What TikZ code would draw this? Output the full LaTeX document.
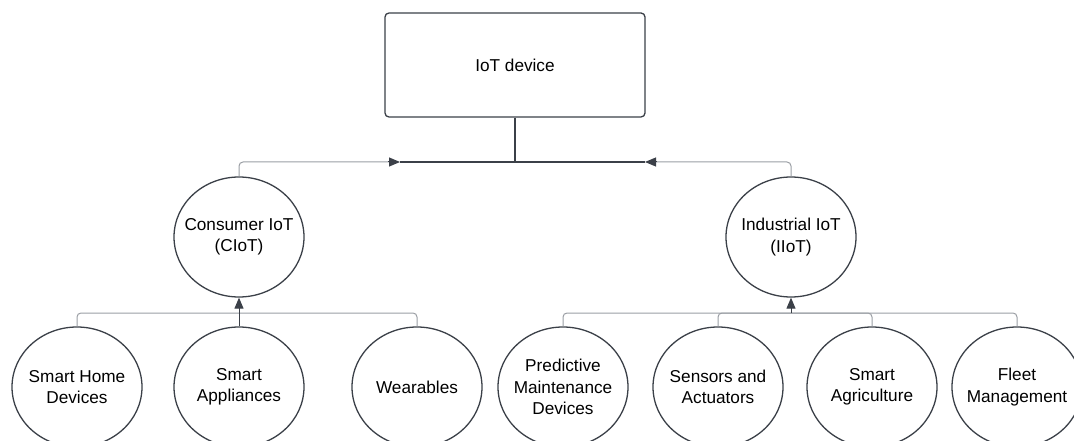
\documentclass[tikz,border=0pt]{standalone}
\usepackage{fontspec}
\setmainfont{Liberation Sans}
\usetikzlibrary{shapes.geometric,arrows.meta}
\definecolor{edge}{HTML}{3B4048}
\definecolor{wire}{HTML}{9A9EA4}
\begin{document}
\begin{tikzpicture}[x=1pt,y=-1pt,
  every node/.style={font=\fontsize{17.2}{21.5}\selectfont, text=black, align=center},
  rootbox/.style={draw=edge, line width=1.3pt, rounded corners=4pt,
    minimum width=260pt, minimum height=104pt, inner sep=0pt},
  % negative padding keeps the outline at its fixed size
  bubble/.style={ellipse, draw=edge, line width=1.3pt,
    minimum width=130pt, minimum height=120pt, inner xsep=-30pt, inner ysep=-20pt},
  wireline/.style={draw=wire, line width=1pt, rounded corners=4pt},
  trunk/.style={draw=edge, line width=1.3pt},
  tip/.style={-{Triangle[length=11pt,width=9pt]}, draw=edge, line width=1pt},
]
\useasboundingbox (0,0) rectangle (1074,441);

% root
\node[rootbox] (iot) at (515,65) {IoT device};

% second level
\node[bubble] (ciot) at (239,237) {Consumer IoT\\(CIoT)};
\node[bubble] (iiot) at (791,237) {Industrial IoT\\(IIoT)};

% leaves
\node[bubble] (home) at (77,387) {Smart Home\\Devices};
\node[bubble] (appl) at (239,387) {Smart\\Appliances};
\node[bubble] (wear) at (417,387) {Wearables};
\node[bubble] (pred) at (563,387) {Predictive\\Maintenance\\Devices};
\node[bubble] (sens) at (718,387) {Sensors and\\Actuators};
\node[bubble] (agri) at (872,387) {Smart\\Agriculture};
\node[bubble] (flee) at (1017,387) {Fleet\\Management};

% junction points
\coordinate (barL) at (400,162);
\coordinate (barM) at (515,162);
\coordinate (barR) at (645,162);
\coordinate (cjoin) at (239,313);
\coordinate (ijoin) at (791,313);

% top bus
\draw[trunk] (iot.south) -- (barM);
\draw[trunk] (barL) -- (barR);
\draw[wireline] (ciot.north) |- ([xshift=-11pt]barL);
\draw[wireline] (iiot.north) |- ([xshift=11pt]barR);
\draw[tip] ([xshift=-12pt]barL) -- (barL);
\draw[tip] ([xshift=12pt]barR) -- (barR);

% consumer bus
\draw[wireline] (home.north) |- (cjoin);
\draw[wireline] (wear.north) |- (cjoin);
\draw[tip] (appl.north) -- (ciot.south);

% industrial bus
\draw[wireline] (pred.north) |- (ijoin);
\draw[wireline] (sens.north) |- (ijoin);
\draw[wireline] (agri.north) |- (ijoin);
\draw[wireline] (flee.north) |- (ijoin);
\draw[tip] (ijoin) -- (iiot.south);
\end{tikzpicture}
\end{document}
